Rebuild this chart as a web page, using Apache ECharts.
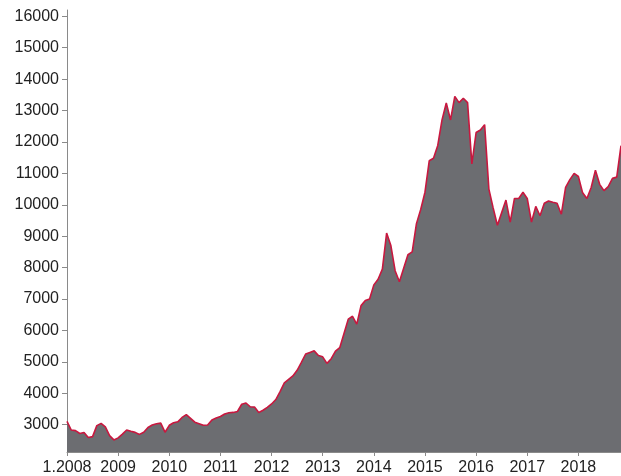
<!DOCTYPE html>
<html>
<head>
<meta charset="utf-8">
<script src="https://cdn.jsdelivr.net/npm/echarts@6/dist/echarts.min.js"></script>
<style>
html,body{margin:0;padding:0;background:#fff;}
#chart{width:621px;height:476px;}
</style>
</head>
<body>
<div id="chart"></div>
<script>
// Monthly values, Jan 2008 .. Nov 2018
const v2008 = [3105, 2830, 2810, 2720, 2750, 2590, 2620, 2970, 3040, 2930, 2650, 2515];
const v2009 = [2580, 2700, 2830, 2790, 2755, 2690, 2760, 2910, 2990, 3030, 3050, 2760];
const v2010 = [2980, 3060, 3090, 3230, 3320, 3200, 3080, 3030, 2980, 2990, 3150, 3210];
const v2011 = [3260, 3340, 3380, 3390, 3420, 3650, 3690, 3570, 3560, 3390, 3460, 3550];
const v2012 = [3660, 3800, 4050, 4330, 4440, 4550, 4730, 4980, 5250, 5300, 5350, 5200];
const v2013 = [5160, 4950, 5100, 5340, 5450, 5900, 6360, 6450, 6200, 6790, 6950, 7000];
const v2014 = [7450, 7630, 7950, 9100, 8700, 7900, 7550, 7980, 8410, 8500, 9400, 9850];
const v2015 = [10400, 11400, 11480, 11890, 12700, 13240, 12700, 13450, 13250, 13390, 13250, 11300];
const v2016 = [12300, 12380, 12550, 10500, 9900, 9350, 9750, 10150, 9450, 10200, 10200, 10400];
const v2017 = [10200, 9450, 9950, 9650, 10050, 10120, 10080, 10050, 9700, 10550, 10800, 11000];
const v2018 = [10900, 10380, 10200, 10550, 11100, 10650, 10450, 10580, 10840, 10880, 11880];

const startYear = 2008;
const yTicks = [3000, 4000, 5000, 6000, 7000, 8000, 9000, 10000, 11000, 12000, 13000, 14000, 15000, 16000];

const values = [].concat(v2008, v2009, v2010, v2011, v2012, v2013, v2014, v2015, v2016, v2017, v2018);
const categories = values.map((_, i) => (startYear + Math.floor(i / 12)) + '-' + String(i % 12 + 1).padStart(2, '0'));

const chart = echarts.init(document.getElementById('chart'));
const axisColor = '#8a8a8a';
chart.setOption({
  animation: false,
  grid: { left: 67, right: 0, top: 10, bottom: 24, containLabel: false },
  xAxis: {
    type: 'category',
    data: categories,
    boundaryGap: false,
    axisLine: { lineStyle: { color: axisColor, width: 1 } },
    axisTick: { show: true, interval: (i) => i % 12 === 0, length: 4, lineStyle: { color: axisColor } },
    axisLabel: {
      interval: (i) => i % 12 === 0,
      color: '#222',
      fontSize: 16,
      fontFamily: 'Liberation Sans, Arial, sans-serif',
      margin: 8,
      formatter: (val, i) => {
        const y = val.slice(0, 4);
        return i === 0 ? '1.' + y : y;
      }
    },
    splitLine: { show: false }
  },
  yAxis: {
    type: 'value',
    min: 2130,
    max: 16200,
    axisLine: { show: true, lineStyle: { color: axisColor, width: 1 } },
    axisTick: { show: true, length: 5, customValues: yTicks, lineStyle: { color: axisColor } },
    axisLabel: {
      customValues: yTicks,
      color: '#222',
      fontSize: 16,
      fontFamily: 'Liberation Sans, Arial, sans-serif',
      margin: 8,
      formatter: (v) => String(v)
    },
    splitLine: { show: false }
  },
  series: [{
    type: 'line',
    data: values,
    symbol: 'none',
    lineStyle: { color: '#c8183f', width: 1.6 },
    areaStyle: { color: '#6c6d71', opacity: 1, origin: 'start' },
    z: 1
  }]
});
</script>
</body>
</html>
